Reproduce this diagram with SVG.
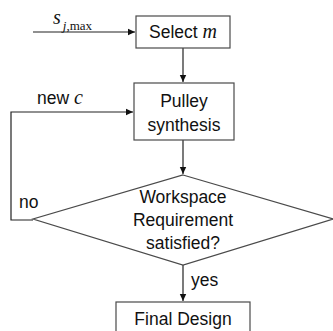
<svg xmlns="http://www.w3.org/2000/svg" width="333" height="331" viewBox="0 0 333 331">
<style>
.box{fill:#fff;stroke:#4a4a4a;stroke-width:1.2}
.t{font-family:"Liberation Sans",Arial,sans-serif;font-size:17.5px;fill:#111}
.m{font-family:"Liberation Serif","Times New Roman",serif;font-style:italic}
.c{fill:none;stroke:#222;stroke-width:1.2}
</style>
<defs>
<marker id="a" markerWidth="8" markerHeight="8" refX="7" refY="4" orient="auto" markerUnits="userSpaceOnUse">
<path d="M0,0.8 L7,4 L0,7.2 Z" fill="#111"/>
</marker>
</defs>
<g id="connectors">
<path class="c" d="M33,32 H135" marker-end="url(#a)"/>
<path class="c" d="M183,48 V82" marker-end="url(#a)"/>
<path class="c" d="M183,140 V174" marker-end="url(#a)"/>
<path class="c" d="M33,220 H11 V112 H133" marker-end="url(#a)"/>
<path class="c" d="M183,265 V301" marker-end="url(#a)"/>
<text class="t" x="191" y="286">yes</text>
<text class="t" x="19" y="208">no</text>
<text class="t" x="37" y="104">new <tspan class="m" font-size="20">c</tspan></text>
<text x="53" y="24" font-family="Liberation Serif,serif" font-size="20" fill="#111"><tspan font-style="italic">s</tspan><tspan font-size="13" font-style="italic" dx="2" dy="6">j</tspan><tspan font-size="13">,max</tspan></text>
</g>
<g id="select">
<rect class="box" x="136" y="16" width="94" height="32"/>
<text class="t" x="183" y="38" text-anchor="middle">Select <tspan class="m" font-size="20">m</tspan></text>
</g>
<g id="pulley">
<rect class="box" x="134" y="83" width="100" height="57"/>
<text class="t" x="184" y="107" text-anchor="middle">Pulley</text>
<text class="t" x="184" y="131" text-anchor="middle">synthesis</text>
</g>
<g id="decision">
<polygon class="box" points="183,175 333,219 183,265 33,219"/>
<text class="t" x="183" y="203" text-anchor="middle">Workspace</text>
<text class="t" x="183" y="226" text-anchor="middle">Requirement</text>
<text class="t" x="183" y="249" text-anchor="middle">satisfied?</text>
</g>
<g id="final">
<rect class="box" x="116" y="302" width="134" height="40"/>
<text class="t" x="183" y="325" text-anchor="middle">Final Design</text>
</g>
</svg>
